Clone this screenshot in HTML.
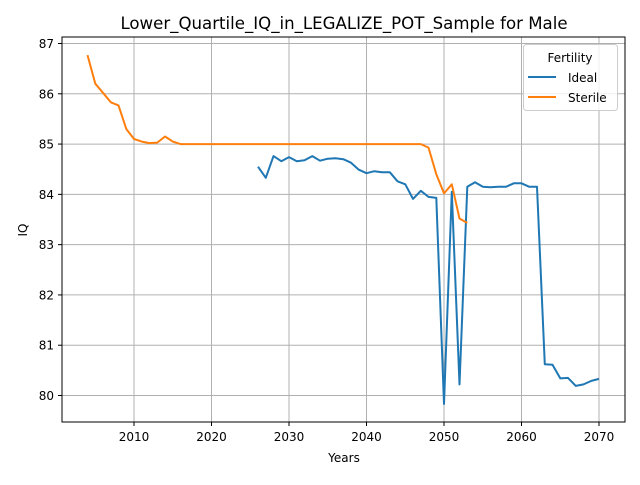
<!DOCTYPE html>
<html><head><meta charset="utf-8"><style>
body{margin:0;background:#fff;}
svg{font-family:"DejaVu Sans","Liberation Sans",sans-serif;}
</style></head><body>
<svg id="chart" width="640" height="480">
<text x="344" y="29" text-anchor="middle" font-size="16.6">Lower_Quartile_IQ_in_LEGALIZE_POT_Sample for Male</text>
<g id="grid"></g>
<g id="ticks"></g>
<g id="series"></g>
<rect x="62" y="37" width="563" height="385" fill="none" stroke="#000" stroke-width="1"/>
<text x="344" y="462" text-anchor="middle" font-size="12">Years</text>
<text x="27" y="230" text-anchor="middle" font-size="12" transform="rotate(-90 27 230)">IQ</text>
<g>
<rect x="523.5" y="44.5" width="94" height="66" rx="3" fill="#fff" fill-opacity="0.8" stroke="#ccc"/>
<text x="570" y="62" text-anchor="middle" font-size="12">Fertility</text>
<line x1="528" y1="77" x2="556" y2="77" stroke="#1f77b4" stroke-width="2"/>
<text x="568" y="82" font-size="12">Ideal</text>
<line x1="528" y1="97" x2="556" y2="97" stroke="#ff7f0e" stroke-width="2"/>
<text x="568" y="102" font-size="12">Sterile</text>
</g>
</svg>
<script>
const xTicks=[2010,2020,2030,2040,2050,2060,2070];
const yTicks=[80,81,82,83,84,85,86,87];
const idealYears=[2026,2027,2028,2029,2030,2031,2032,2033,2034,2035,2036,2037,2038,2039,2040,2041,2042,2043,2044,2045,2046,2047,2048,2049,2050,2051,2052,2053,2054,2055,2056,2057,2058,2059,2060,2061,2062,2063,2064,2065,2066,2067,2068,2069,2070];
const idealValues=[84.55,84.33,84.76,84.66,84.74,84.66,84.68,84.76,84.67,84.71,84.72,84.7,84.63,84.49,84.42,84.46,84.44,84.44,84.26,84.2,83.91,84.07,83.95,83.93,79.83,84.05,80.22,84.15,84.24,84.15,84.14,84.15,84.15,84.22,84.22,84.15,84.15,80.62,80.61,80.34,80.35,80.19,80.22,80.29,80.33];
const sterileYears=[2004,2005,2006,2007,2008,2009,2010,2011,2012,2013,2014,2015,2016,2017,2020,2025,2030,2035,2040,2045,2047,2048,2049,2050,2051,2052,2053];
const sterileValues=[86.77,86.2,86.02,85.83,85.77,85.3,85.1,85.05,85.02,85.03,85.15,85.05,85.0,85.0,85.0,85.0,85.0,85.0,85.0,85.0,85.0,84.93,84.4,84.02,84.2,83.52,83.43];

const NS="http://www.w3.org/2000/svg";
const xs=v=>134+(v-2010)*(465/60);
const ys=v=>395.5-(v-80)*(352/7);
function mk(tag,attrs,parent){const e=document.createElementNS(NS,tag);for(const k in attrs)e.setAttribute(k,attrs[k]);parent.appendChild(e);return e;}
const grid=document.getElementById('grid'),ticks=document.getElementById('ticks'),series=document.getElementById('series');
xTicks.forEach(t=>{
 const x=xs(t);
 const g=mk('line',{x1:x,y1:37,x2:x,y2:422,stroke:'#b0b0b0','stroke-width':1},grid);
 
 
 mk('line',{x1:x,y1:422,x2:x,y2:426,stroke:'#000'},ticks);
 const l=mk('text',{x:x,y:441,'text-anchor':'middle','font-size':12},ticks);
 l.textContent=t;
 
 
});
yTicks.forEach(t=>{
 const y=ys(t);
 const g=mk('line',{x1:62,y1:y,x2:625,y2:y,stroke:'#b0b0b0','stroke-width':1},grid);
 
 
 mk('line',{x1:58,y1:y,x2:62,y2:y,stroke:'#000'},ticks);
 const l=mk('text',{x:54,y:y+4.5,'text-anchor':'end','font-size':12},ticks);
 l.textContent=t;
 
 
});
function draw(xv,yv,color,name){
 const d=xv.map((x,i)=>(i?'L':'M')+xs(x).toFixed(1)+' '+ys(yv[i]).toFixed(1)).join(' ');
 const p=mk('path',{d:d,fill:'none',stroke:color,'stroke-width':2,'stroke-linejoin':'round'},series);
 
 
}
draw(idealYears,idealValues,'#1f77b4','ideal-line');
draw(sterileYears,sterileValues,'#ff7f0e','sterile-line');
</script>
</body></html>
